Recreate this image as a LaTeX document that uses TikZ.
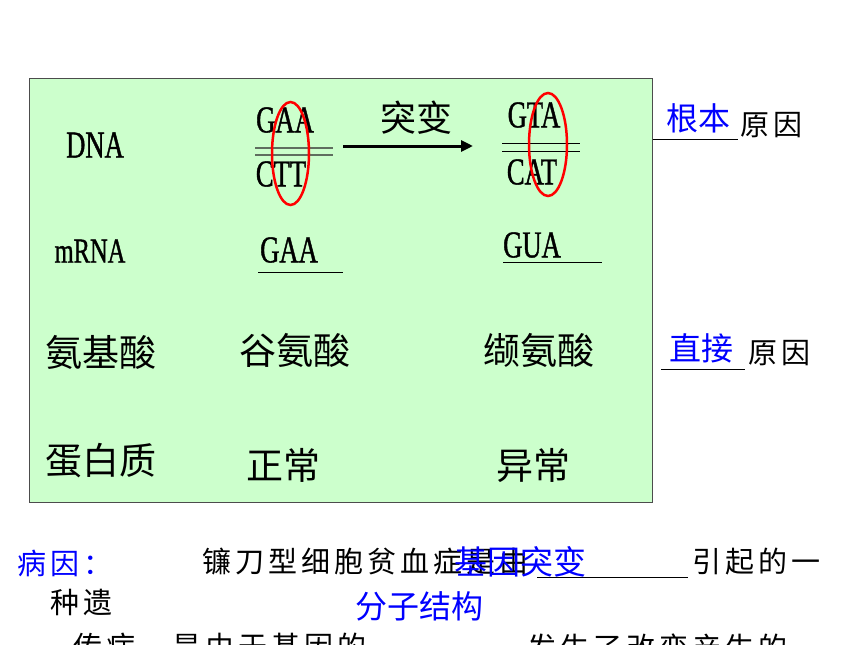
\documentclass[tikz,border=0pt]{standalone}
\usepackage{fontspec}
\usepackage{tikz}
\usetikzlibrary{arrows.meta}
\newfontfamily\cjk{Noto Sans CJK SC}
\newfontfamily\cjkwide[LetterSpace=14]{Noto Sans CJK SC}
\newfontfamily\seqfont[FakeStretch=0.7, FakeBold=1]{Liberation Serif}
\definecolor{boxgreen}{RGB}{204,255,204}
\definecolor{strandgray}{RGB}{95,110,95}
\tikzset{
	word/.style={inner sep=0pt, font=\cjk\fontsize{37}{37}\selectfont},
	base/.style={inner sep=0pt, font=\seqfont\fontsize{38}{38}\selectfont},
	answer/.style={inner sep=0pt, text=blue, font=\cjk\fontsize{32}{32}\selectfont},
	prose/.style={inner sep=0pt, anchor=west, font=\cjkwide\fontsize{29}{29}\selectfont},
	ring/.style={draw=red, line width=2.5pt},
	blank/.style={line width=1pt},
}
\begin{document}
\begin{tikzpicture}[x=1pt, y=-1pt]
	\useasboundingbox (0,0) rectangle (860,645);
	\clip (0,0) rectangle (860,645);
	\draw[draw=black!70, fill=boxgreen, line width=1pt] (29,78) rectangle (652,502);

	\node[base] (dna) at (95,145) {DNA};
	\node[base, font=\seqfont\fontsize{35}{35}\selectfont] (mrna) at (90,251) {mRNA};
	\node[word] (amino) at (101,352) {氨基酸};
	\node[word] (protein) at (101,461) {蛋白质};

	\node[base] (gaaup) at (285,120) {GAA};
	\node[base] (ctt) at (281,174) {CTT};
	\node[base] (gta) at (534,115) {GTA};
	\node[base] (cat) at (532,172) {CAT};
	\node[base] (gaarna) at (289,250) {GAA};
	\node[base] (gua) at (532,245) {GUA};
	\foreach \y in {148,155}
		\draw[strandgray, line width=1.5pt] (255,\y) -- (333,\y);
	\foreach \y in {143,151}
		\draw[line width=0.9pt] (502,\y) -- (580,\y);
	\draw[blank] (258,272) -- (343,272);
	\draw[blank] (503,262) -- (602,262);
	\draw[ring] (290.5,153.5) ellipse [x radius=18.5pt, y radius=51.5pt];
	\draw[ring] (548,144.5) ellipse [x radius=19pt, y radius=51.5pt];

	\coordinate (mutstart) at (343,146);
	\coordinate (mutend) at (473,146);
	\draw[-{Triangle[length=12pt, width=11pt]}, line width=3pt] (mutstart) -- (mutend);
	\node[word, font=\cjk\fontsize{36}{36}\selectfont] (mutation) at (416,118) {突变};

	\foreach \n/\x/\y/\t in {glu/295/350/谷氨酸, val/539/350/缬氨酸, normal/283/465/正常, abnormal/533/465/异常}
		\node[word] (\n) at (\x,\y) {\t};

	\node[answer] (root) at (698,118) {根本};
	\draw[blank] (653,139) -- (738,139);
	\node[prose] (cause1) at (740,125) {原因};
	\node[answer] (direct) at (701,348) {直接};
	\draw[blank] (661,369) -- (745,369);
	\node[prose] (cause2) at (748,353) {原因};

	\node[prose, text=blue] (why) at (17,563) {病因：};
	\node[prose] (line1) at (202,562) {镰刀型细胞贫血症是由};
	\node[answer, font=\cjk\fontsize{33}{33}\selectfont] (gene) at (520,562) {基因突变};
	\draw[blank] (537,577) -- (688,577);
	\node[prose] (line1b) at (692,562) {引起的一};
	\node[prose] (line2) at (50,602) {种遗};
	\node[answer] (struct) at (419,606) {分子结构};
	\node[prose] (line3) at (73,647) {传病，是由于基因的};
	\node[prose] (line3b) at (527,647) {发生了改变产生的};
\end{tikzpicture}
\end{document}
